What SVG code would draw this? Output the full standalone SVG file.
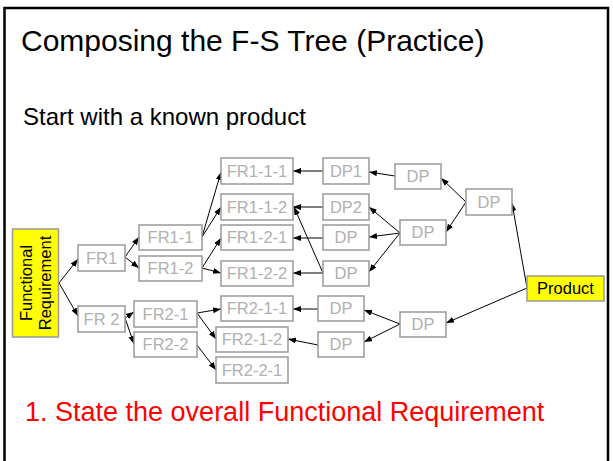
<svg xmlns="http://www.w3.org/2000/svg" width="613" height="461" viewBox="0 0 613 461">
  <style>
    .frame { fill: none; stroke: #000; stroke-width: 2.5; }
    .title { font-family: "Liberation Sans", Arial, sans-serif; font-size: 30px; fill: #000; }
    .sub { font-family: "Liberation Sans", Arial, sans-serif; font-size: 24px; fill: #000; }
    .step { font-family: "Liberation Sans", Arial, sans-serif; font-size: 27px; fill: #ff0000; }
    .box { fill: #fff; stroke: #999; stroke-width: 1.5; }
    .hl { fill: #ffff00; stroke: #999; stroke-width: 1.5; }
    .lbl { font-family: "Liberation Sans", Arial, sans-serif; font-size: 16.5px; fill: #b0b0b0; text-anchor: middle; }
    .dark { fill: #000; }
    .conn line { stroke: #000; stroke-width: 1; marker-end: url(#arrow); }
  </style>
  <defs>
    <marker id="arrow" markerUnits="userSpaceOnUse" markerWidth="9" markerHeight="7" refX="8" refY="3" orient="auto">
      <path d="M0,0 L8,3 L0,6 z" fill="#000"/>
    </marker>
  </defs>

  <rect width="613" height="461" fill="#fff"/>
  <path class="frame" d="M4.5,462 V8 H608 V462"/>

  <text class="title" x="21" y="51">Composing the F-S Tree (Practice)</text>
  <text class="sub" x="23" y="125">Start with a known product</text>
  <text class="step" x="25" y="421">1. State the overall Functional Requirement</text>

  <!-- connectors -->
  <g class="conn" id="connectors">
    <line x1="59" y1="283" x2="78" y2="259"/>
    <line x1="59" y1="283" x2="78" y2="316"/>
    <line x1="125" y1="257" x2="139" y2="237"/>
    <line x1="125" y1="257" x2="139" y2="268"/>
    <line x1="125" y1="318" x2="134" y2="312"/>
    <line x1="125" y1="318" x2="134" y2="344"/>
    <line x1="202" y1="237" x2="221" y2="172"/>
    <line x1="202" y1="237" x2="221" y2="207"/>
    <line x1="202" y1="268" x2="221" y2="238"/>
    <line x1="202" y1="268" x2="221" y2="273"/>
    <line x1="197" y1="313" x2="221" y2="309"/>
    <line x1="197" y1="313" x2="216" y2="339"/>
    <line x1="197" y1="345" x2="216" y2="370"/>
    <line x1="323" y1="171" x2="293" y2="171"/>
    <line x1="323" y1="207" x2="293" y2="207"/>
    <line x1="323" y1="238" x2="293" y2="238"/>
    <line x1="323" y1="273" x2="293" y2="273"/>
    <line x1="323" y1="273" x2="294" y2="207"/>
    <line x1="318" y1="309" x2="293" y2="309"/>
    <line x1="318" y1="345" x2="288" y2="339"/>
    <line x1="395" y1="176" x2="369" y2="172"/>
    <line x1="400" y1="233" x2="369" y2="207"/>
    <line x1="400" y1="233" x2="369" y2="237"/>
    <line x1="400" y1="233" x2="369" y2="272"/>
    <line x1="466" y1="202" x2="441" y2="178"/>
    <line x1="466" y1="202" x2="446" y2="232"/>
    <line x1="527" y1="288" x2="512" y2="203"/>
    <line x1="527" y1="288" x2="446" y2="323"/>
    <line x1="400" y1="324" x2="364" y2="310"/>
    <line x1="400" y1="324" x2="364" y2="342"/>
  </g>

  <!-- functional requirement side -->
  <g id="fr">
    <rect class="hl" x="12.5" y="229" width="46" height="108"/>
    <text class="lbl dark" transform="translate(31.5,283) rotate(-90)">Functional</text>
    <text class="lbl dark" transform="translate(51,283) rotate(-90)">Requirement</text>
  </g>
  <g id="fr1"><rect class="box" x="78" y="245" width="47" height="26"/><text class="lbl" x="101.5" y="263.8">FR1</text></g>
  <g id="fr2"><rect class="box" x="78" y="306" width="47" height="26"/><text class="lbl" x="101.5" y="324.8">FR 2</text></g>
  <g id="fr1-1"><rect class="box" x="139" y="225" width="63" height="25"/><text class="lbl" x="170.5" y="243.3">FR1-1</text></g>
  <g id="fr1-2"><rect class="box" x="139" y="256" width="63" height="25"/><text class="lbl" x="170.5" y="274.3">FR1-2</text></g>
  <g id="fr2-1"><rect class="box" x="134" y="301" width="63" height="26"/><text class="lbl" x="165.5" y="319.8">FR2-1</text></g>
  <g id="fr2-2"><rect class="box" x="134" y="332" width="63" height="25"/><text class="lbl" x="165.5" y="350.3">FR2-2</text></g>
  <g id="fr1-1-1"><rect class="box" x="221" y="158" width="72" height="26"/><text class="lbl" x="257" y="176.8">FR1-1-1</text></g>
  <g id="fr1-1-2"><rect class="box" x="221" y="194" width="72" height="26"/><text class="lbl" x="257" y="212.8">FR1-1-2</text></g>
  <g id="fr1-2-1"><rect class="box" x="221" y="225" width="72" height="25"/><text class="lbl" x="257" y="243.3">FR1-2-1</text></g>
  <g id="fr1-2-2"><rect class="box" x="221" y="261" width="72" height="25"/><text class="lbl" x="257" y="279.3">FR1-2-2</text></g>
  <g id="fr2-1-1"><rect class="box" x="221" y="296" width="72" height="25"/><text class="lbl" x="257" y="314.3">FR2-1-1</text></g>
  <g id="fr2-1-2"><rect class="box" x="216" y="327" width="72" height="25"/><text class="lbl" x="252" y="345.3">FR2-1-2</text></g>
  <g id="fr2-2-1"><rect class="box" x="216" y="357" width="72" height="26"/><text class="lbl" x="252" y="375.8">FR2-2-1</text></g>

  <!-- design parameter side -->
  <g id="dp1"><rect class="box" x="323" y="158" width="46" height="26"/><text class="lbl" x="346" y="176.8">DP1</text></g>
  <g id="dp2"><rect class="box" x="323" y="194" width="46" height="26"/><text class="lbl" x="346" y="212.8">DP2</text></g>
  <g id="dp1-2-1"><rect class="box" x="323" y="225" width="46" height="25"/><text class="lbl" x="346" y="243.3">DP</text></g>
  <g id="dp1-2-2"><rect class="box" x="323" y="261" width="46" height="25"/><text class="lbl" x="346" y="279.3">DP</text></g>
  <g id="dp2-1-1"><rect class="box" x="318" y="296" width="46" height="25"/><text class="lbl" x="341" y="314.3">DP</text></g>
  <g id="dp2-1-2"><rect class="box" x="318" y="332" width="46" height="25"/><text class="lbl" x="341" y="350.3">DP</text></g>
  <g id="dp1-1"><rect class="box" x="395" y="164" width="46" height="25"/><text class="lbl" x="418" y="182.3">DP</text></g>
  <g id="dp1-2"><rect class="box" x="400" y="220" width="46" height="25"/><text class="lbl" x="423" y="238.3">DP</text></g>
  <g id="dp2-1"><rect class="box" x="400" y="312" width="46" height="25"/><text class="lbl" x="423" y="330.3">DP</text></g>
  <g id="dp-top"><rect class="box" x="466" y="189" width="46" height="26"/><text class="lbl" x="489" y="207.8">DP</text></g>
  <g id="product"><rect class="hl" x="527" y="276" width="77" height="25"/><text class="lbl dark" x="565.5" y="294.3">Product</text></g>
</svg>
